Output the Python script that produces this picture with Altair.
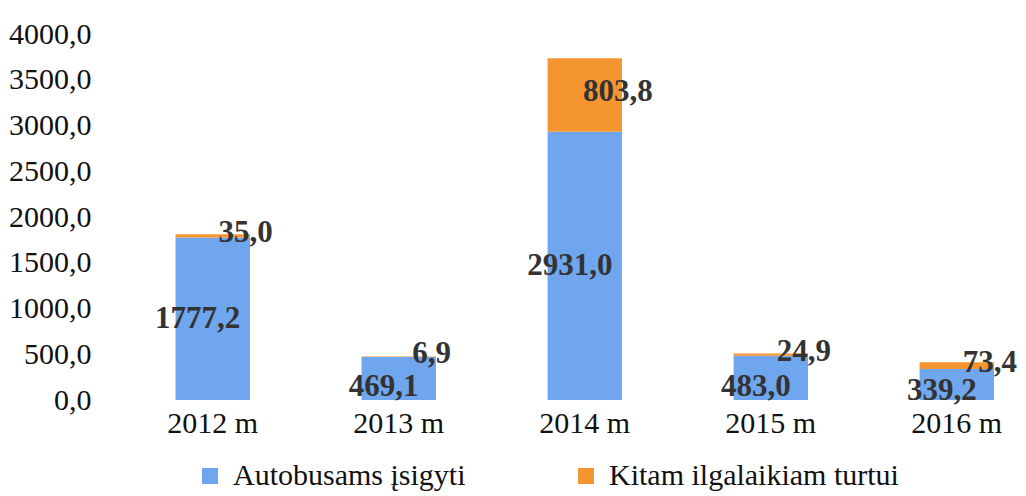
import altair as alt
import pandas as pd

years = ["2012 m", "2013 m", "2014 m", "2015 m", "2016 m"]
autobusams = [1777.2, 469.1, 2931.0, 483.0, 339.2]
kitam = [35.0, 6.9, 803.8, 24.9, 73.4]
series_names = ["Autobusams įsigyti", "Kitam ilgalaikiam turtui"]
colors = ["#6FA6EE", "#F5952F"]

rows = []
for i, y in enumerate(years):
    rows.append({"year": y, "series": series_names[0], "value": autobusams[i], "order": 0,
                 "start": 0.0, "end": autobusams[i]})
    rows.append({"year": y, "series": series_names[1], "value": kitam[i], "order": 1,
                 "start": autobusams[i], "end": autobusams[i] + kitam[i]})
df = pd.DataFrame(rows)

font = "Liberation Serif"

xscale = alt.Scale(paddingInner=0.6, paddingOuter=0.238, align=0.774)
xenc = alt.X("year:N", sort=years, title=None, scale=xscale,
             axis=alt.Axis(labelAngle=0, labelFont=font, labelFontSize=30, labelColor="#111",
                           domain=False, ticks=False, labelPadding=8))

base = alt.Chart(df)

bars = base.mark_bar().encode(
    x=xenc,
    y=alt.Y("start:Q", title=None,
            scale=alt.Scale(domain=[0, 4000]),
            axis=alt.Axis(values=[0, 500, 1000, 1500, 2000, 2500, 3000, 3500, 4000],
                          labelExpr="replace(format(datum.value, '.1f'), '.', ',')",
                          labelFont=font, labelFontSize=30, labelColor="#111",
                          domain=False, ticks=False, grid=False, labelPadding=16)),
    y2="end:Q",
    color=alt.Color("series:N", sort=series_names,
                    scale=alt.Scale(domain=series_names, range=colors),
                    legend=alt.Legend(title=None, orient="none", direction="horizontal",
                                      legendX=88, legendY=427,
                                      labelFont=font, labelFontSize=30, labelColor="#111",
                                      labelLimit=500, labelOffset=8,
                                      symbolType="square", symbolSize=256, columnPadding=105,
                                      symbolStrokeWidth=0)),
)

label_df = base.transform_calculate(
    mid="(datum.start + datum.end) / 2",
    lab="replace(format(datum.value, '.1f'), '.', ',')",
    low="datum.end < 1000 ? datum.end * 0.3 : (datum.start + datum.end) / 2"
)

blue_labels = label_df.transform_filter(alt.datum.order == 0).mark_text(
    font=font, fontSize=31, fontWeight="bold", color="#333", dx=-15
).encode(x=alt.X("year:N", sort=years, scale=xscale), y="low:Q", text="lab:N")

orange_labels = label_df.transform_filter(alt.datum.order == 1).mark_text(
    font=font, fontSize=31, fontWeight="bold", color="#333", dx=33, dy=-3
).encode(x=alt.X("year:N", sort=years, scale=xscale), y="mid:Q", text="lab:N")

chart = alt.layer(bars, blue_labels, orange_labels).properties(
    width=907, height=366, padding={"left": 0, "top": 11, "right": 0, "bottom": 0}
).configure_view(stroke=None)

chart.save("out.html", embed_options={"renderer": "svg", "actions": False})
